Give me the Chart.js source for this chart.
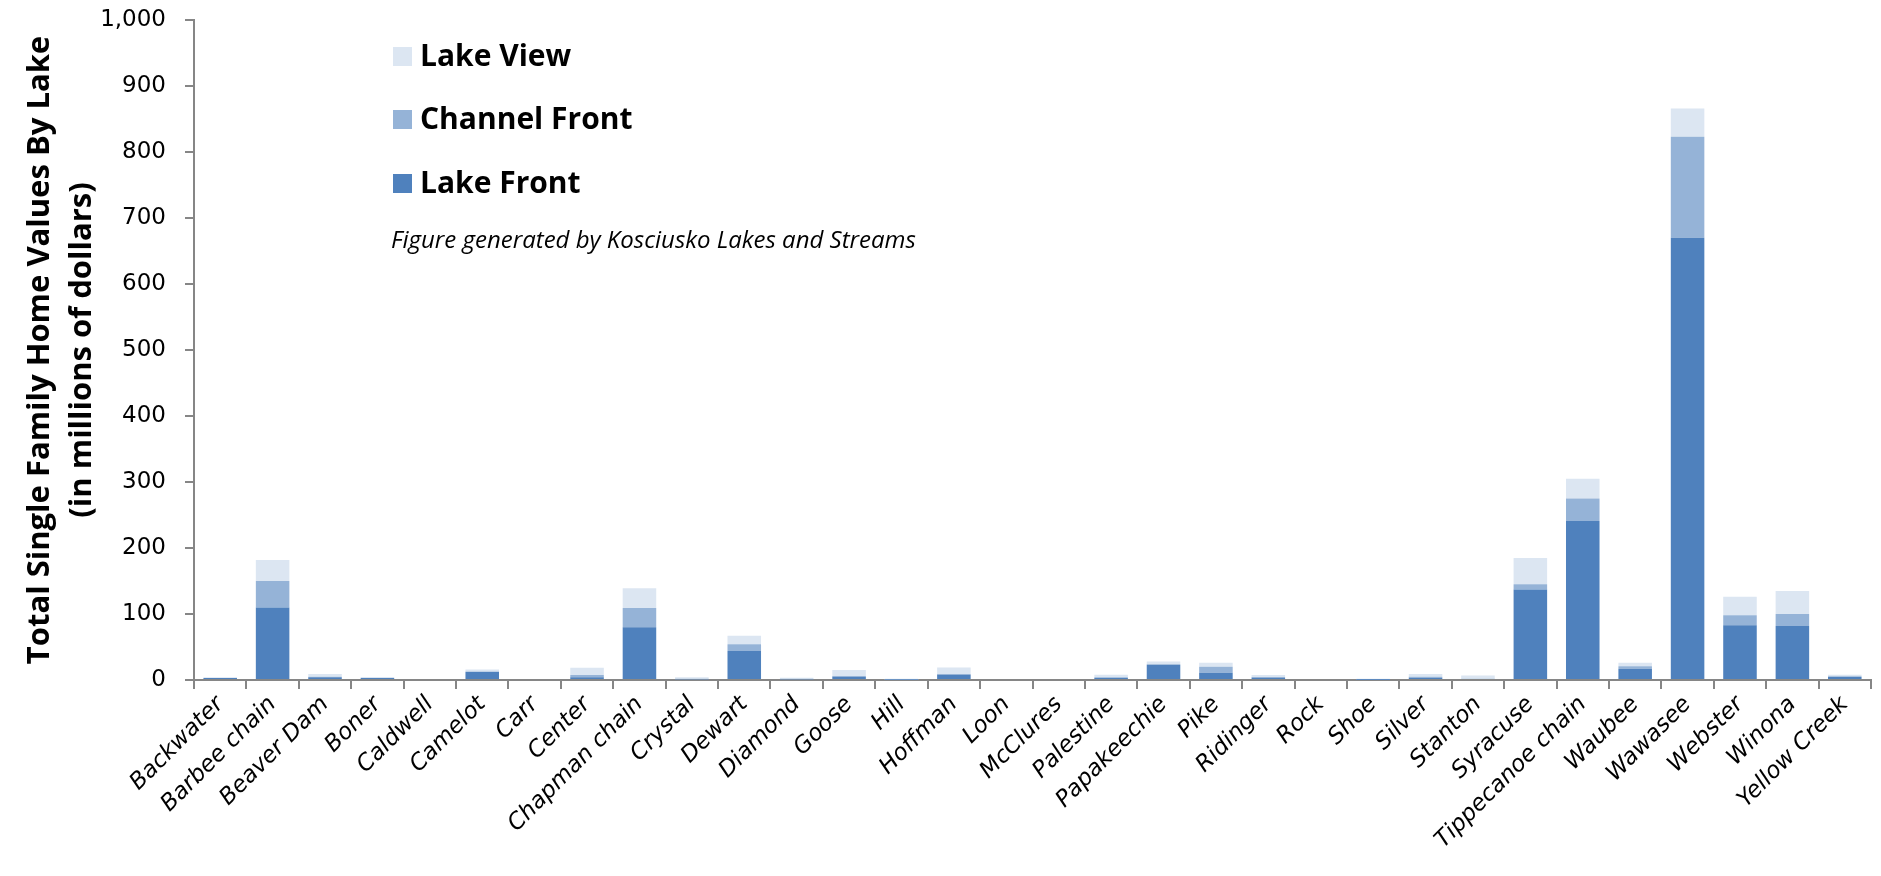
<!DOCTYPE html>
<html><head><meta charset="utf-8">
<script src="https://cdn.jsdelivr.net/npm/chart.js@4.4.1/dist/chart.umd.min.js"></script>
<style>html,body{margin:0;padding:0;background:#fff;overflow:hidden}</style>
</head><body>
<canvas id="c" width="1881" height="876" style="width:1881px;height:876px;display:block"></canvas>
<script>
const categories = ['Backwater','Barbee chain','Beaver Dam','Boner','Caldwell','Camelot','Carr','Center','Chapman chain','Crystal','Dewart','Diamond','Goose','Hill','Hoffman','Loon','McClures','Palestine','Papakeechie','Pike','Ridinger','Rock','Shoe','Silver','Stanton','Syracuse','Tippecanoe chain','Waubee','Wawasee','Webster','Winona','Yellow Creek'];
const lakeFront    = [3, 110, 4, 3, 0, 12, 0, 4, 80, 1, 44, 1, 5, 0.5, 8, 0, 0, 3, 23, 11, 3.5, 0, 0.5, 3.5, 1.5, 137, 241, 17, 670, 83, 82, 4.5];
const channelFront = [0, 40, 1, 0, 0, 1, 0, 3.5, 29, 1, 10, 1, 1, 0, 1, 0, 0, 1, 1, 9, 1, 0, 1, 1.5, 0.5, 8, 34, 4, 153, 15, 18, 1];
const lakeView     = [1, 32, 4, 1.5, 0, 3, 0, 11, 30, 2, 13, 1.5, 9, 1.5, 10, 0, 0, 4, 4, 6, 3, 0, 0.5, 4, 5, 40, 30, 5, 43, 28, 35, 2.5];
const seriesNames = ['Lake Front', 'Channel Front', 'Lake View'];
const seriesColors = ['#4F81BD', '#95B3D7', '#DCE6F2'];
const yTitle = ['Total Single Family Home Values By Lake', '(in millions of dollars)'];
const noteText = 'Figure generated by Kosciusko Lakes and Streams';
const yMin = 0, yMax = 1000, yStep = 100;

const overlay = {
  id: 'overlay',
  afterDraw(chart) {
    const ctx = chart.ctx;
    ctx.save();
    const ds = chart.data.datasets;
    const order = [2, 1, 0];
    const ys = [57, 120, 184];
    order.forEach((di, k) => {
      ctx.fillStyle = ds[di].backgroundColor;
      ctx.fillRect(393, ys[k] - 10, 19, 19);
      ctx.fillStyle = '#000';
      ctx.font = 'bold 30px "Open Sans"';
      ctx.textBaseline = 'middle';
      ctx.textAlign = 'left';
      ctx.fillText(ds[di].label, 420, ys[k]);
    });
    ctx.font = 'italic 24px "Open Sans"';
    ctx.fillText(noteText, 391, 241);
    ctx.restore();
  }
};

new Chart(document.getElementById('c'), {
  type: 'bar',
  data: {
    labels: categories,
    datasets: [
      { label: seriesNames[0], data: lakeFront, backgroundColor: seriesColors[0] },
      { label: seriesNames[1], data: channelFront, backgroundColor: seriesColors[1] },
      { label: seriesNames[2], data: lakeView, backgroundColor: seriesColors[2] }
    ]
  },
  options: {
    responsive: false,
    animation: false,
    devicePixelRatio: 1,
    layout: { padding: { left: 0, top: 20, right: 10, bottom: 0 } },
    plugins: { legend: { display: false }, tooltip: { enabled: false } },
    datasets: { bar: { barPercentage: 0.64, categoryPercentage: 1.0 } },
    scales: {
      x: {
        stacked: true,
        afterFit(s) { s.height = 196; },
        grid: { offset: true, drawOnChartArea: false, drawTicks: true, tickLength: 9, color: '#868686', lineWidth: 2 },
        border: { color: '#868686', width: 2 },
        ticks: { autoSkip: false, maxRotation: 45, minRotation: 45, color: '#000', padding: 2,
                 font: { family: '"DejaVu Sans"', size: 23, style: 'italic' } }
      },
      y: {
        stacked: true,
        min: yMin, max: yMax,
        afterFit(s) { s.width = 194; s.paddingTop = 0; s.paddingBottom = 0; },
        grid: { drawOnChartArea: false, drawTicks: true, tickLength: 9, color: '#868686', lineWidth: 2 },
        border: { color: '#868686', width: 2 },
        ticks: { stepSize: yStep, color: '#000', padding: 19,
                 font: { family: '"DejaVu Sans"', size: 23 },
                 callback: v => v.toLocaleString('en-US') },
        title: { display: true, text: yTitle, color: '#000', padding: { top: 19, bottom: 0 },
                 font: { family: '"Open Sans"', size: 31, weight: 'bold', lineHeight: 1.355 } }
      }
    }
  },
  plugins: [overlay]
});
</script>
</body></html>
